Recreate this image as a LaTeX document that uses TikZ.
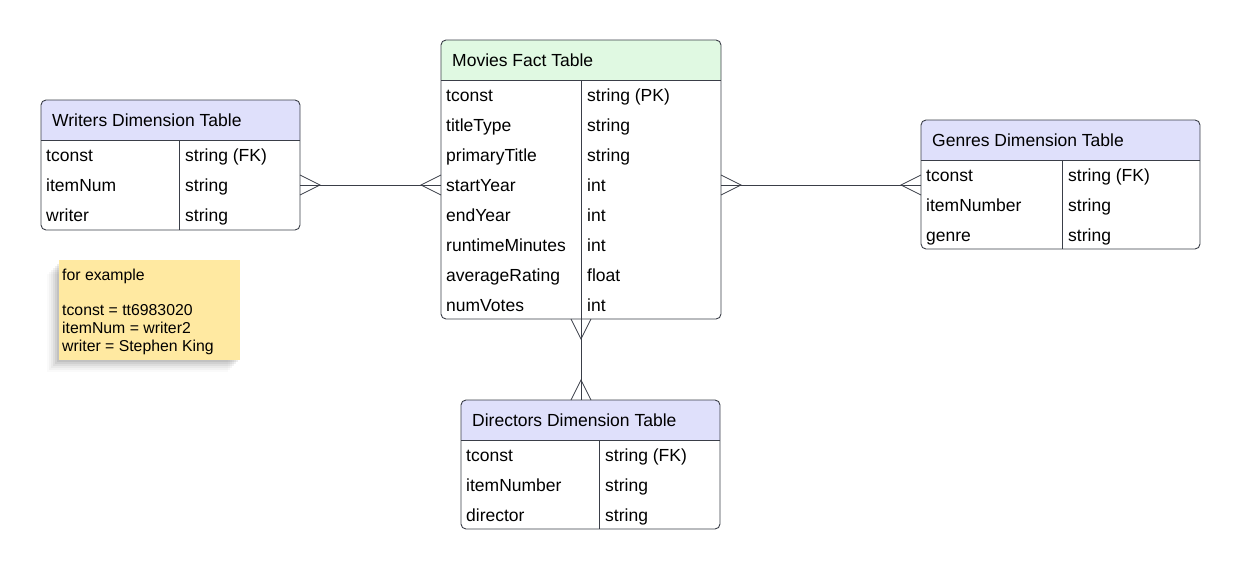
\documentclass[tikz,border=0pt]{standalone}
\usepackage{fontspec}
\setmainfont{Liberation Sans}
\definecolor{factgreen}{RGB}{224,249,226}
\definecolor{dimblue}{RGB}{223,224,251}
\definecolor{noteyellow}{RGB}{255,233,161}
\definecolor{linegrey}{RGB}{58,62,72}

\begin{document}
\begin{tikzpicture}[x=1pt,y=-1pt,
    tbl/.style={draw=linegrey, line width=0.9pt, rounded corners=5pt,
      anchor=north west, inner sep=0pt, outer sep=0pt},
    cell/.style={anchor=base west, inner sep=0pt,
      font=\fontsize{17.5}{20}\selectfont},
    rel/.style={draw=linegrey, line width=0.8pt},
    crowfoot/.pic={\draw[rel] (0,-10) -- (20,0) -- (0,10);}]
\useasboundingbox (0,0) rectangle (1241,570);

% sticky note
\foreach \s/\o in {12/0.02,10/0.03,8/0.04,6/0.05,4/0.06,2/0.07}
  \fill[black, opacity=\o] (59-\s,262+\s) rectangle (240-\s,360+\s);
\fill[noteyellow] (59,260) rectangle (240,360);
\node[anchor=north west, align=left, inner sep=0pt,
  font=\fontsize{15.8}{18}\selectfont] (note) at (62,269)
  {for example\\[17pt]tconst = tt6983020\\itemNum = writer2\\writer = Stephen King};

% Movies
\begin{scope}
  \clip (441,40) rectangle (721,80);
  \fill[factgreen, rounded corners=5pt] (441,40) rectangle (721,319);
\end{scope}
\node[tbl, minimum width=280pt, minimum height=279pt] (movies) at (441,40) {};
\draw[linegrey, line width=0.9pt] (441,80) -- (721,80) (581,80) -- (581,319);
\node[cell] (mhead) at (452,66) {Movies Fact Table};
\foreach \k/\t [count=\i] in {tconst/string (PK), titleType/string,
    primaryTitle/string, startYear/int, endYear/int, runtimeMinutes/int,
    averageRating/float, numVotes/int}{
  \node[cell] (mk\i) at (446,71+30*\i) {\k};
  \node[cell] (mt\i) at (587,71+30*\i) {\t};
}

% Writers
\begin{scope}
  \clip (41,100) rectangle (300,140);
  \fill[dimblue, rounded corners=5pt] (41,100) rectangle (300,230);
\end{scope}
\node[tbl, minimum width=259pt, minimum height=130pt] (writers) at (41,100) {};
\draw[linegrey, line width=0.9pt] (41,140) -- (300,140) (179,140) -- (179,230);
\node[cell] (whead) at (52,126) {Writers Dimension Table};
\foreach \k/\t [count=\i] in {tconst/string (FK), itemNum/string, writer/string}{
  \node[cell] (wk\i) at (46,131+30*\i) {\k};
  \node[cell] (wt\i) at (185,131+30*\i) {\t};
}

% Genres
\begin{scope}
  \clip (921,120) rectangle (1200,160);
  \fill[dimblue, rounded corners=5pt] (921,120) rectangle (1200,249);
\end{scope}
\node[tbl, minimum width=279pt, minimum height=129pt] (genres) at (921,120) {};
\draw[linegrey, line width=0.9pt] (921,160) -- (1200,160) (1062,160) -- (1062,249);
\node[cell] (ghead) at (932,146) {Genres Dimension Table};
\foreach \k/\t [count=\i] in {tconst/string (FK), itemNumber/string, genre/string}{
  \node[cell] (gk\i) at (926,151+30*\i) {\k};
  \node[cell] (gt\i) at (1068,151+30*\i) {\t};
}

% Directors
\begin{scope}
  \clip (461,400) rectangle (720,440);
  \fill[dimblue, rounded corners=5pt] (461,400) rectangle (720,529);
\end{scope}
\node[tbl, minimum width=259pt, minimum height=129pt] (directors) at (461,400) {};
\draw[linegrey, line width=0.9pt] (461,440) -- (720,440) (599,440) -- (599,529);
\node[cell] (dhead) at (472,426) {Directors Dimension Table};
\foreach \k/\t [count=\i] in {tconst/string (FK), itemNumber/string, director/string}{
  \node[cell] (dk\i) at (466,431+30*\i) {\k};
  \node[cell] (dt\i) at (605,431+30*\i) {\t};
}

% relations
\coordinate (relrow) at (0,185);
\draw[rel] (writers.east |- relrow) -- (movies.west |- relrow);
\draw[rel] (movies.east |- relrow) -- (genres.west |- relrow);
\draw[rel] (movies.south) -- (directors.north -| movies.south);
\pic at (writers.east |- relrow) {crowfoot};
\pic[rotate=180] at (movies.west |- relrow) {crowfoot};
\pic at (movies.east |- relrow) {crowfoot};
\pic[rotate=180] at (genres.west |- relrow) {crowfoot};
\pic[rotate=-90] at (movies.south) {crowfoot};
\pic[rotate=90] at (directors.north -| movies.south) {crowfoot};
\end{tikzpicture}
\end{document}
